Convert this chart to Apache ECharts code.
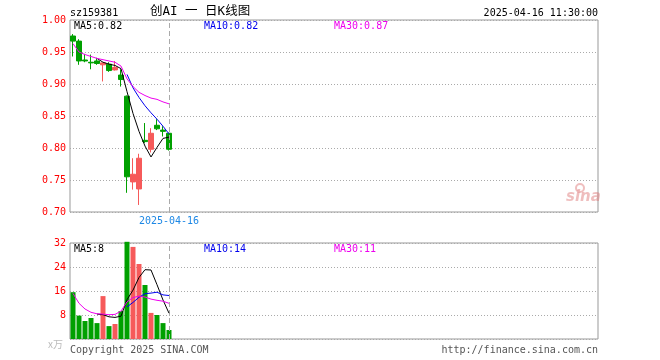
<!DOCTYPE html>
<html><head><meta charset="utf-8">
<script src="https://cdn.jsdelivr.net/npm/echarts@6/dist/echarts.min.js"></script>
<style>html,body{margin:0;padding:0;background:#fff}#c{width:660px;height:360px}</style>
</head><body><div id="c"></div>
<script>
const dates = ['2025-03-24','2025-03-25','2025-03-26','2025-03-27','2025-03-28','2025-03-31','2025-04-01','2025-04-02','2025-04-03','2025-04-07','2025-04-08','2025-04-09','2025-04-10','2025-04-11','2025-04-14','2025-04-15','2025-04-16'];
const opens  = [0.975,0.967,0.9375,0.934,0.936,0.930,0.931,0.922,0.914,0.881,0.747,0.736,0.812,0.798,0.8355,0.828,0.823];
const closes = [0.967,0.936,0.936,0.933,0.932,0.933,0.921,0.926,0.907,0.755,0.759,0.784,0.810,0.823,0.830,0.826,0.798];
const lows   = [0.943,0.930,0.934,0.923,0.930,0.904,0.919,0.921,0.896,0.730,0.735,0.711,0.808,0.793,0.828,0.818,0.796];
const highs  = [0.978,0.970,0.947,0.946,0.941,0.933,0.934,0.936,0.923,0.882,0.784,0.791,0.839,0.831,0.845,0.834,0.824];
const ma5  = [null,null,null,null,0.940,0.934,0.931,0.929,0.924,0.888,0.854,0.826,0.803,0.786,0.801,0.815,0.817];
const ma10 = [null,null,null,null,null,null,null,null,null,0.915,0.894,0.879,0.866,0.855,0.845,0.834,0.822];
const ma30 = [0.963,0.950,0.946,0.943,0.940,0.938,0.936,0.934,0.928,0.908,0.896,0.887,0.882,0.878,0.876,0.872,0.869];
const volumes = [15.6,7.8,6.0,7.0,5.3,14.3,4.3,5.0,9.3,32.4,30.7,25.0,18.0,8.7,8.0,5.3,3.0];
const vma5  = [null,null,null,null,8.3,8.1,7.4,7.2,7.6,13.1,16.3,20.5,23.1,23.0,18.1,13.0,8.6];
const vma10 = [null,null,null,null,null,null,null,null,null,10.7,12.2,13.9,15.1,15.3,15.6,14.7,14.5];
const vma30 = [15.2,11.9,10.0,8.9,8.4,8.3,8.1,8.2,9.3,12.4,13.8,14.3,14.0,13.3,12.9,12.6,11.9];
const priceTicks = [0.70,0.75,0.80,0.85,0.90,0.95,1.00];
const volTicks = [0,8,16,24,32];
const legendMain = ['MA5:0.82','MA10:0.82','MA30:0.87'];
const legendVol = ['MA5:8','MA10:14','MA30:11'];

const UP = '#f65a5a', DOWN = '#00a000', C5 = '#000000', C10 = '#0000ee', C30 = '#ee00ee';
const MONO = '"DejaVu Sans Mono", monospace';
const SLOTS = 88;
const cats = dates.concat(Array(SLOTS - dates.length).fill(''));
const kData = dates.map((d,i)=>[opens[i],closes[i],lows[i],highs[i]]);
const vData = volumes.map((v,i)=>({value:v,itemStyle:{color: closes[i]>=opens[i]?UP:DOWN}}));
const lastDate = dates[dates.length-1];

const chart = echarts.init(document.getElementById('c'), null, {renderer:'canvas'});
function line(name, data, color, xi, yi){
  return {name, type:'line', data, xAxisIndex:xi, yAxisIndex:yi, symbol:'none', smooth:false,
    lineStyle:{color, width:1}, itemStyle:{color}, silent:true, z:5};
}
const txt = (x,y,text,color,extra)=>({type:'text', left:x, top:y, silent:true,
  style:Object.assign({text, fill:color, font:'10px '+MONO}, extra||{})});
chart.setOption({
  animation:false,
  grid:[
    {left:70, top:20, width:528, height:192, show:true, borderColor:'#999', borderWidth:1},
    {left:70, top:243, width:528, height:96, show:true, borderColor:'#999', borderWidth:1}
  ],
  xAxis:[
    {type:'category', gridIndex:0, data:cats, boundaryGap:true, axisLine:{show:false}, axisTick:{show:false}, axisLabel:{show:false}, splitLine:{show:false}},
    {type:'category', gridIndex:1, data:cats, boundaryGap:true, axisLine:{show:false}, axisTick:{show:false}, axisLabel:{show:false}, splitLine:{show:false}}
  ],
  yAxis:[
    {type:'value', gridIndex:0, min:priceTicks[0], max:priceTicks[priceTicks.length-1], interval:0.05,
     axisLine:{show:false}, axisTick:{show:false},
     axisLabel:{color:'#ff0000', fontFamily:MONO, fontSize:10, margin:4, formatter:v=>v.toFixed(2)},
     splitLine:{show:true, lineStyle:{color:'#aaa', type:[1,2], width:1}}},
    {type:'value', gridIndex:1, min:volTicks[0], max:volTicks[volTicks.length-1], interval:8,
     axisLine:{show:false}, axisTick:{show:false},
     axisLabel:{color:'#ff0000', fontFamily:MONO, fontSize:10, margin:4, formatter:v=>v===0?'':String(v)},
     splitLine:{show:true, lineStyle:{color:'#aaa', type:[1,2], width:1}}}
  ],
  series:[
    {type:'candlestick', xAxisIndex:0, yAxisIndex:0, data:kData, barWidth:5,
     itemStyle:{color:UP, color0:DOWN, borderColor:UP, borderColor0:DOWN, borderWidth:1},
     markLine:{silent:true, symbol:'none', data:[{xAxis:lastDate}],
       lineStyle:{color:'#aaa', type:[5,3], width:1},
       label:{show:true, position:'start', formatter:lastDate, color:'#1e88e5', fontFamily:MONO, fontSize:10, distance:4}}},
    line('MA5', ma5, C5, 0, 0),
    line('MA10', ma10, C10, 0, 0),
    line('MA30', ma30, C30, 0, 0),
    {type:'bar', xAxisIndex:1, yAxisIndex:1, data:vData, barWidth:5, clip:false,
     markLine:{silent:true, symbol:'none', data:[{xAxis:lastDate}],
       lineStyle:{color:'#aaa', type:[5,3], width:1}, label:{show:false}}},
    line('VMA5', vma5, C5, 1, 1),
    line('VMA10', vma10, C10, 1, 1),
    line('VMA30', vma30, C30, 1, 1)
  ],
  graphic:[
    txt(70,8,'sz159381','#000'),
    {type:'text', left:150, top:5, silent:true, style:{text:'创AI 一 日K线图', fill:'#000', font:'12.5px "DejaVu Sans Mono", "Noto Sans CJK SC", monospace'}},
    {type:'text', right:62, top:8, silent:true, style:{text:dates[dates.length-1]+' 11:30:00', fill:'#000', font:'10px '+MONO}},
    txt(74,21,legendMain[0],C5),
    txt(204,21,legendMain[1],C10),
    txt(334,21,legendMain[2],C30),
    txt(74,244,legendVol[0],C5),
    txt(204,244,legendVol[1],C10),
    txt(334,244,legendVol[2],C30),
    {type:'text', left:48, top:339, silent:true, style:{text:'x万', fill:'#bbb', font:'10px "Noto Sans CJK SC", sans-serif'}},
    txt(70,345,'Copyright 2025 SINA.COM','#555'),
    {type:'text', right:62, top:345, silent:true, style:{text:'http://finance.sina.com.cn', fill:'#555', font:'10px '+MONO}},
    {type:'text', left:566, top:190, silent:true, style:{text:'sina', fill:'rgba(220,110,110,0.45)', font:'italic bold 15px "DejaVu Sans", sans-serif'}},
    {type:'circle', shape:{cx:580, cy:188, r:4}, silent:true, style:{fill:'none', stroke:'rgba(220,110,110,0.45)', lineWidth:2}}
  ]
});
</script></body></html>
